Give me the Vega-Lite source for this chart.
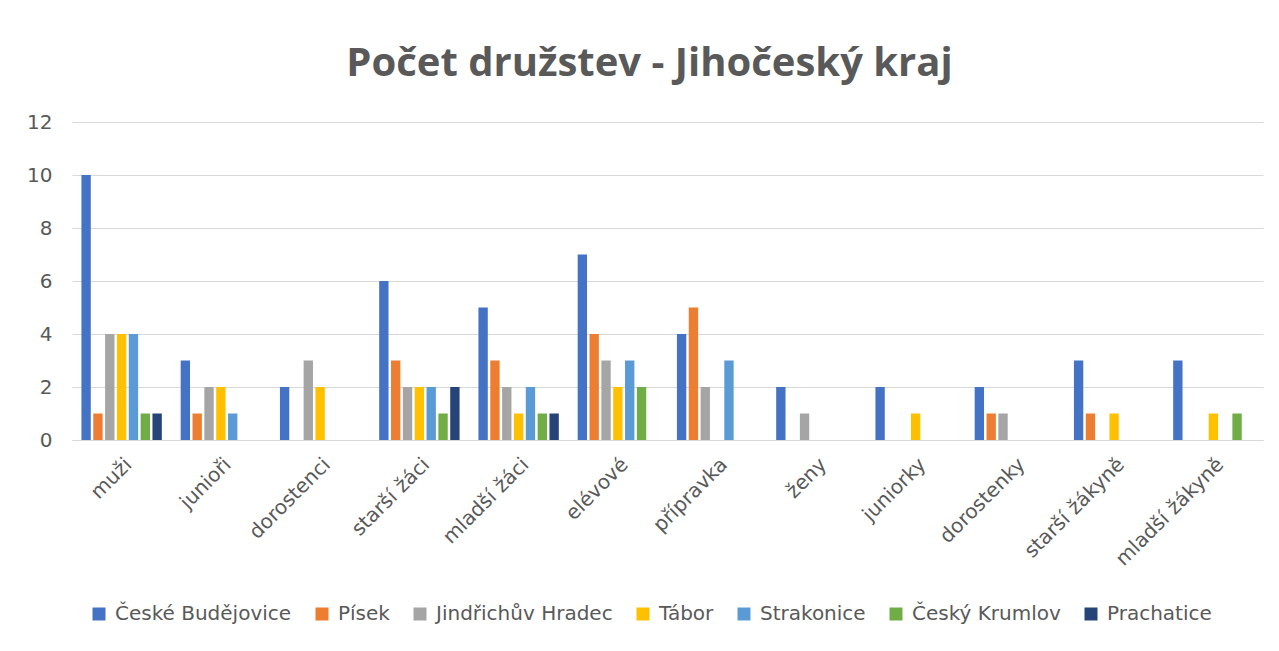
{
  "$schema": "https://vega.github.io/schema/vega-lite/v6.json",
  "autosize": {"type": "none"},
  "width": 1191,
  "height": 318,
  "padding": {"left": 72, "top": 122, "right": 16, "bottom": 211},
  "background": "white",
  "title": {
    "text": "Počet družstev - Jihočeský kraj",
    "fontSize": 40,
    "font": "Open Sans",
    "fontWeight": "bold",
    "color": "#595959",
    "anchor": "middle",
    "dx": -18,
    "offset": 28
  },
  "data": {
    "values": [
      {"kategorie": "muži", "okres": "České Budějovice", "pocet": 10},
      {"kategorie": "muži", "okres": "Písek", "pocet": 1},
      {"kategorie": "muži", "okres": "Jindřichův Hradec", "pocet": 4},
      {"kategorie": "muži", "okres": "Tábor", "pocet": 4},
      {"kategorie": "muži", "okres": "Strakonice", "pocet": 4},
      {"kategorie": "muži", "okres": "Český Krumlov", "pocet": 1},
      {"kategorie": "muži", "okres": "Prachatice", "pocet": 1},
      {"kategorie": "junioři", "okres": "České Budějovice", "pocet": 3},
      {"kategorie": "junioři", "okres": "Písek", "pocet": 1},
      {"kategorie": "junioři", "okres": "Jindřichův Hradec", "pocet": 2},
      {"kategorie": "junioři", "okres": "Tábor", "pocet": 2},
      {"kategorie": "junioři", "okres": "Strakonice", "pocet": 1},
      {"kategorie": "junioři", "okres": "Český Krumlov", "pocet": 0},
      {"kategorie": "junioři", "okres": "Prachatice", "pocet": 0},
      {"kategorie": "dorostenci", "okres": "České Budějovice", "pocet": 2},
      {"kategorie": "dorostenci", "okres": "Písek", "pocet": 0},
      {"kategorie": "dorostenci", "okres": "Jindřichův Hradec", "pocet": 3},
      {"kategorie": "dorostenci", "okres": "Tábor", "pocet": 2},
      {"kategorie": "dorostenci", "okres": "Strakonice", "pocet": 0},
      {"kategorie": "dorostenci", "okres": "Český Krumlov", "pocet": 0},
      {"kategorie": "dorostenci", "okres": "Prachatice", "pocet": 0},
      {"kategorie": "starší žáci", "okres": "České Budějovice", "pocet": 6},
      {"kategorie": "starší žáci", "okres": "Písek", "pocet": 3},
      {"kategorie": "starší žáci", "okres": "Jindřichův Hradec", "pocet": 2},
      {"kategorie": "starší žáci", "okres": "Tábor", "pocet": 2},
      {"kategorie": "starší žáci", "okres": "Strakonice", "pocet": 2},
      {"kategorie": "starší žáci", "okres": "Český Krumlov", "pocet": 1},
      {"kategorie": "starší žáci", "okres": "Prachatice", "pocet": 2},
      {"kategorie": "mladší žáci", "okres": "České Budějovice", "pocet": 5},
      {"kategorie": "mladší žáci", "okres": "Písek", "pocet": 3},
      {"kategorie": "mladší žáci", "okres": "Jindřichův Hradec", "pocet": 2},
      {"kategorie": "mladší žáci", "okres": "Tábor", "pocet": 1},
      {"kategorie": "mladší žáci", "okres": "Strakonice", "pocet": 2},
      {"kategorie": "mladší žáci", "okres": "Český Krumlov", "pocet": 1},
      {"kategorie": "mladší žáci", "okres": "Prachatice", "pocet": 1},
      {"kategorie": "elévové", "okres": "České Budějovice", "pocet": 7},
      {"kategorie": "elévové", "okres": "Písek", "pocet": 4},
      {"kategorie": "elévové", "okres": "Jindřichův Hradec", "pocet": 3},
      {"kategorie": "elévové", "okres": "Tábor", "pocet": 2},
      {"kategorie": "elévové", "okres": "Strakonice", "pocet": 3},
      {"kategorie": "elévové", "okres": "Český Krumlov", "pocet": 2},
      {"kategorie": "elévové", "okres": "Prachatice", "pocet": 0},
      {"kategorie": "přípravka", "okres": "České Budějovice", "pocet": 4},
      {"kategorie": "přípravka", "okres": "Písek", "pocet": 5},
      {"kategorie": "přípravka", "okres": "Jindřichův Hradec", "pocet": 2},
      {"kategorie": "přípravka", "okres": "Tábor", "pocet": 0},
      {"kategorie": "přípravka", "okres": "Strakonice", "pocet": 3},
      {"kategorie": "přípravka", "okres": "Český Krumlov", "pocet": 0},
      {"kategorie": "přípravka", "okres": "Prachatice", "pocet": 0},
      {"kategorie": "ženy", "okres": "České Budějovice", "pocet": 2},
      {"kategorie": "ženy", "okres": "Písek", "pocet": 0},
      {"kategorie": "ženy", "okres": "Jindřichův Hradec", "pocet": 1},
      {"kategorie": "ženy", "okres": "Tábor", "pocet": 0},
      {"kategorie": "ženy", "okres": "Strakonice", "pocet": 0},
      {"kategorie": "ženy", "okres": "Český Krumlov", "pocet": 0},
      {"kategorie": "ženy", "okres": "Prachatice", "pocet": 0},
      {"kategorie": "juniorky", "okres": "České Budějovice", "pocet": 2},
      {"kategorie": "juniorky", "okres": "Písek", "pocet": 0},
      {"kategorie": "juniorky", "okres": "Jindřichův Hradec", "pocet": 0},
      {"kategorie": "juniorky", "okres": "Tábor", "pocet": 1},
      {"kategorie": "juniorky", "okres": "Strakonice", "pocet": 0},
      {"kategorie": "juniorky", "okres": "Český Krumlov", "pocet": 0},
      {"kategorie": "juniorky", "okres": "Prachatice", "pocet": 0},
      {"kategorie": "dorostenky", "okres": "České Budějovice", "pocet": 2},
      {"kategorie": "dorostenky", "okres": "Písek", "pocet": 1},
      {"kategorie": "dorostenky", "okres": "Jindřichův Hradec", "pocet": 1},
      {"kategorie": "dorostenky", "okres": "Tábor", "pocet": 0},
      {"kategorie": "dorostenky", "okres": "Strakonice", "pocet": 0},
      {"kategorie": "dorostenky", "okres": "Český Krumlov", "pocet": 0},
      {"kategorie": "dorostenky", "okres": "Prachatice", "pocet": 0},
      {"kategorie": "starší žákyně", "okres": "České Budějovice", "pocet": 3},
      {"kategorie": "starší žákyně", "okres": "Písek", "pocet": 1},
      {"kategorie": "starší žákyně", "okres": "Jindřichův Hradec", "pocet": 0},
      {"kategorie": "starší žákyně", "okres": "Tábor", "pocet": 1},
      {"kategorie": "starší žákyně", "okres": "Strakonice", "pocet": 0},
      {"kategorie": "starší žákyně", "okres": "Český Krumlov", "pocet": 0},
      {"kategorie": "starší žákyně", "okres": "Prachatice", "pocet": 0},
      {"kategorie": "mladší žákyně", "okres": "České Budějovice", "pocet": 3},
      {"kategorie": "mladší žákyně", "okres": "Písek", "pocet": 0},
      {"kategorie": "mladší žákyně", "okres": "Jindřichův Hradec", "pocet": 0},
      {"kategorie": "mladší žákyně", "okres": "Tábor", "pocet": 1},
      {"kategorie": "mladší žákyně", "okres": "Strakonice", "pocet": 0},
      {"kategorie": "mladší žákyně", "okres": "Český Krumlov", "pocet": 1},
      {"kategorie": "mladší žákyně", "okres": "Prachatice", "pocet": 0}
    ]
  },
  "mark": {"type": "bar"},
  "encoding": {
    "x": {
      "field": "kategorie",
      "type": "nominal",
      "sort": null,
      "scale": {"paddingInner": 0.19, "paddingOuter": 0.095},
      "axis": {
        "title": null,
        "labelAngle": -45,
        "labelFontSize": 20,
        "labelFont": "DejaVu Sans",
        "labelColor": "#595959",
        "labelPadding": 14,
        "ticks": false,
        "domainColor": "#D9D9D9",
        "domainWidth": 1
      }
    },
    "xOffset": {
      "field": "okres",
      "type": "nominal",
      "sort": null,
      "scale": {"paddingInner": 0.21, "paddingOuter": 0}
    },
    "y": {
      "field": "pocet",
      "type": "quantitative",
      "scale": {"domain": [0, 12]},
      "axis": {
        "title": null,
        "values": [0, 2, 4, 6, 8, 10, 12],
        "labelFontSize": 20,
        "labelFont": "DejaVu Sans",
        "labelColor": "#595959",
        "labelPadding": 20,
        "ticks": false,
        "domain": false,
        "gridColor": "#D9D9D9",
        "gridWidth": 1
      }
    },
    "color": {
      "field": "okres",
      "type": "nominal",
      "sort": null,
      "scale": {
        "domain": ["České Budějovice", "Písek", "Jindřichův Hradec", "Tábor", "Strakonice", "Český Krumlov", "Prachatice"],
        "range": ["#4472C4", "#ED7D31", "#A5A5A5", "#FFC000", "#5B9BD5", "#70AD47", "#264478"]
      },
      "legend": {
        "title": null,
        "orient": "none",
        "direction": "horizontal",
        "legendX": 17,
        "legendY": 482,
        "symbolType": "square",
        "symbolSize": 169,
        "symbolStrokeWidth": 0,
        "labelFontSize": 20,
        "labelFont": "DejaVu Sans",
        "labelColor": "#595959",
        "labelOffset": 6,
        "columnPadding": 20,
        "labelLimit": 300
      }
    }
  },
  "config": {
    "view": {"stroke": null}
  }
}
